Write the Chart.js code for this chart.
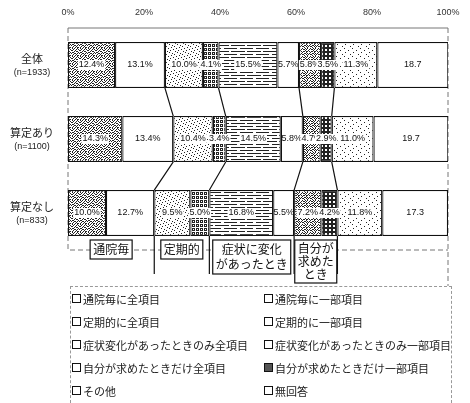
<!DOCTYPE html>
<html>
<head>
<meta charset="utf-8">
<script src="https://cdn.jsdelivr.net/npm/chart.js@4"></script>
<style>
  body { margin: 0; background: #fff; }
  #wrap { position: relative; width: 470px; height: 403px; }
  #chart { position: absolute; left: 0; top: 0; }
  #legend {
    position: absolute; left: 70px; top: 286px; width: 382px; height: 117px;
    box-sizing: border-box; border: 1px dashed #999; border-bottom: none;
    display: grid; grid-template-columns: 192px 1fr; grid-auto-rows: 23px;
    font: 11px "Noto Sans CJK JP", sans-serif; color: #222;
  }
  .item { display: flex; align-items: center; white-space: nowrap; }
  .sw { width: 7px; height: 7px; border: 1.5px solid #111; margin: 0 2px 0 1px; background: #fff; }
</style>
</head>
<body>
<div id="wrap">
  <canvas id="chart" width="470" height="403"></canvas>
  <div id="legend"></div>
</div>
<script>
// --- data ---
const categories  = ["全体", "算定あり", "算定なし"];
const sampleSizes = ["(n=1933)", "(n=1100)", "(n=833)"];

const tsuinAll     = [12.4, 14.3, 10.0];  // 通院毎に全項目
const tsuinPart    = [13.1, 13.4, 12.7];  // 通院毎に一部項目
const teikiAll     = [10.0, 10.4,  9.5];  // 定期的に全項目
const teikiPart    = [ 4.1,  3.4,  5.0];  // 定期的に一部項目
const shojoAll     = [15.5, 14.5, 16.8];  // 症状変化があったときのみ全項目
const shojoPart    = [ 5.7,  5.8,  5.5];  // 症状変化があったときのみ一部項目
const jibunAll     = [ 5.8,  4.7,  7.2];  // 自分が求めたときだけ全項目
const jibunPart    = [ 3.5,  2.9,  4.2];  // 自分が求めたときだけ一部項目
const sonota       = [11.3, 11.0, 11.8];  // その他
const mukaito      = [18.7, 19.7, 17.3];  // 無回答

const seriesNames = [
  "通院毎に全項目", "通院毎に一部項目",
  "定期的に全項目", "定期的に一部項目",
  "症状変化があったときのみ全項目", "症状変化があったときのみ一部項目",
  "自分が求めたときだけ全項目", "自分が求めたときだけ一部項目",
  "その他", "無回答",
];
const seriesValues = [tsuinAll, tsuinPart, teikiAll, teikiPart, shojoAll,
                      shojoPart, jibunAll, jibunPart, sonota, mukaito];

const tickValues  = [0, 20, 40, 60, 80, 100];
const groupLabels = [["通院毎"], ["定期的"], ["症状に変化", "があったとき"], ["自分が", "求めた", "とき"]];
const groupEnds   = [1, 3, 5, 7];   // last series index of each group

// --- fill patterns (scanned b/w look) ---
function pattern(rows) {
  const c = document.createElement("canvas");
  c.width = rows[0].length; c.height = rows.length;
  const g = c.getContext("2d");
  g.fillStyle = "#fff"; g.fillRect(0, 0, c.width, c.height);
  g.fillStyle = "#222";
  rows.forEach((r, y) => [...r].forEach((ch, x) => { if (ch === "1") g.fillRect(x, y, 1, 1); }));
  return g.createPattern(c, "repeat");
}
const WHITE = "#fff";
const FILLS = [
  pattern(["10100100","01001010","10010001","00101100","11000010","00110101","01001000","10010110"]),
  WHITE,
  pattern(["10000000","00000100","00100000","00000001","01000000","00001000","00000010","00010000"]),
  pattern(["11101110","10101010","11101110","00000000","11101110","10101010","11101110","00000000"]),
  pattern(["1111111111111000","0000000000000000","0000000000000000",
           "1111100111111111","0000000000000000","0000000000000000"]),
  WHITE,
  pattern(["01010010","10100101","01001000","10110101","00100010","11010100","00101011","10010000"]),
  pattern(["1111","1001","1001","1111"]),
  pattern(["10000000","00000000","00001000","00000000","01000000","00000000","00000010","00000000"]),
  WHITE,
];

// --- overlay: frame, labels, connector lines, group boxes ---
const overlay = {
  id: "overlay",
  beforeDatasetsDraw(chart) {
    const { ctx, chartArea: a } = chart;
    ctx.save();
    ctx.strokeStyle = "#777"; ctx.lineWidth = 1;
    ctx.beginPath(); ctx.moveTo(a.left, a.top); ctx.lineTo(a.right, a.top); ctx.stroke();
    ctx.setLineDash([5, 3]);
    ctx.beginPath();
    ctx.moveTo(a.left, a.top); ctx.lineTo(a.left, a.bottom); ctx.lineTo(a.right, a.bottom);
    ctx.moveTo(a.right, a.top); ctx.lineTo(a.right, 286);
    ctx.stroke();
    ctx.restore();
  },
  afterDatasetsDraw(chart) {
    const { ctx } = chart;
    ctx.save();

    // value labels
    ctx.font = "9px 'Liberation Sans', Arial";
    ctx.textAlign = "center"; ctx.textBaseline = "middle";
    chart.data.datasets.forEach((ds, j) => {
      chart.getDatasetMeta(j).data.forEach((el, i) => {
        const v = ds.data[i];
        const txt = v.toFixed(1) + (j === seriesValues.length - 1 ? "" : "%");
        const cx = (el.x + el.base) / 2;
        if (FILLS[j] !== WHITE) {
          const w = ctx.measureText(txt).width;
          ctx.fillStyle = "#fff";
          ctx.fillRect(cx - w / 2 - 1, el.y - 5, w + 2, 10);
        }
        ctx.fillStyle = "#111";
        ctx.fillText(txt, cx, el.y);
      });
    });

    // connector lines between group boundaries
    ctx.strokeStyle = "#111"; ctx.lineWidth = 1.2;
    groupEnds.forEach(j => {
      const els = chart.getDatasetMeta(j).data;
      ctx.beginPath();
      for (let i = 0; i < els.length - 1; i++) {
        ctx.moveTo(els[i].x, els[i].y + els[i].height / 2);
        ctx.lineTo(els[i + 1].x, els[i + 1].y - els[i + 1].height / 2);
      }
      const last = els[els.length - 1];
      ctx.moveTo(last.x, last.y + last.height / 2);
      ctx.lineTo(last.x, 274);
      ctx.stroke();
    });

    // group label boxes below the last bar
    const lastRow = categories.length - 1;
    ctx.font = "12px 'Noto Sans CJK JP'";
    groupLabels.forEach((lines, g) => {
      const start = g === 0 ? chart.getDatasetMeta(0).data[lastRow].base
                            : chart.getDatasetMeta(groupEnds[g - 1]).data[lastRow].x;
      const end = chart.getDatasetMeta(groupEnds[g]).data[lastRow].x;
      const cx = (start + end) / 2;
      const lh = lines.length > 2 ? 13 : 15;
      const w = Math.max(...lines.map(l => ctx.measureText(l).width)) + 6;
      const h = lines.length * lh + 4;
      const top = 240;
      ctx.fillStyle = "#fff";
      ctx.fillRect(cx - w / 2, top, w, h);
      ctx.strokeRect(cx - w / 2, top, w, h);
      ctx.fillStyle = "#111";
      lines.forEach((l, k) => ctx.fillText(l, cx, top + 2 + lh / 2 + k * lh));
    });

    // category labels
    const meta0 = chart.getDatasetMeta(0).data;
    categories.forEach((name, i) => {
      const y = meta0[i].y;
      ctx.fillStyle = "#222";
      ctx.font = "11px 'Noto Sans CJK JP'";
      ctx.fillText(name, 32, y - 6);
      ctx.font = "9px 'Liberation Sans', Arial";
      ctx.fillText(sampleSizes[i], 32, y + 8);
    });
    ctx.restore();
  },
};

new Chart(document.getElementById("chart"), {
  type: "bar",
  data: {
    labels: categories,
    datasets: seriesValues.map((vals, j) => ({
      label: seriesNames[j],
      data: vals,
      backgroundColor: FILLS[j],
      borderColor: "#111",
      borderWidth: 1.2,
      borderSkipped: false,
      barPercentage: 0.62,
      categoryPercentage: 1,
    })),
  },
  options: {
    indexAxis: "y",
    responsive: false,
    animation: false,
    layout: { padding: { left: 68, right: 22, top: 0, bottom: 153 } },
    plugins: { legend: { display: false }, tooltip: { enabled: false } },
    scales: {
      x: {
        position: "top", stacked: true, min: 0, max: 100,
        afterBuildTicks: s => { s.ticks = tickValues.map(v => ({ value: v })); },
        afterFit: s => { s.height = 28; },
        ticks: { color: "#333", font: { size: 9, family: "'Liberation Sans', Arial" },
                 padding: 10, callback: v => v + "%", maxRotation: 0 },
        grid: { display: false, drawTicks: false },
        border: { display: false },
      },
      y: { stacked: true, display: false },
    },
  },
  plugins: [overlay],
});

// --- legend ---
const legend = document.getElementById("legend");
seriesNames.forEach((name, j) => {
  const item = document.createElement("div");
  item.className = "item";
  const sw = document.createElement("span");
  sw.className = "sw";
  if (j === 7) sw.style.background = "#555";
  item.appendChild(sw);
  item.appendChild(document.createTextNode(name));
  legend.appendChild(item);
});
</script>
</body>
</html>
